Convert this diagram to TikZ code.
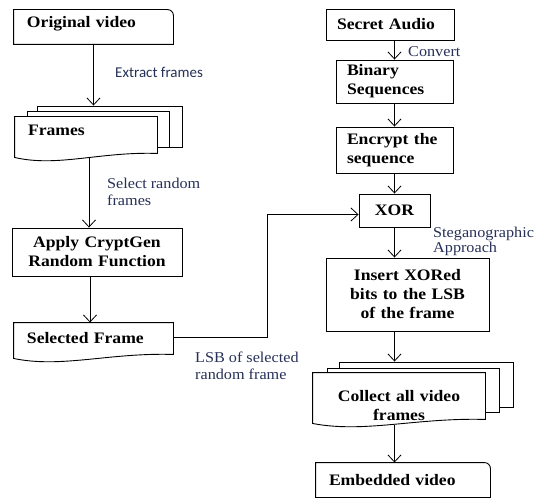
\documentclass[tikz,border=0pt]{standalone}
\usepackage{fontspec}
\setmainfont{Liberation Serif}[FakeStretch=1.1]
\newfontfamily\noteserif{Liberation Serif}[FakeStretch=1.08]
\newfontfamily\notesans{Carlito}
\usetikzlibrary{arrows.meta,calc}
\definecolor{notecol}{RGB}{38,48,88}

\begin{document}
\begin{tikzpicture}[x=1pt, y=1pt,
    box/.style = {draw, line width=0.9pt, inner xsep=13pt, inner ysep=2pt, font=\fontsize{16}{19}\selectfont\bfseries},
    tab/.style = {box, draw=none},
    paper/.style = {box, draw=none, fill=white},
    sheet/.style = {draw, line width=0.9pt, fill=white, inner sep=0pt},
    arr/.style = {-{Straight Barb[length=7pt,width=13pt]}, line width=0.8pt},
    note/.style = {text=notecol, align=left, anchor=west, inner sep=0pt, font=\noteserif\fontsize{15}{17}\selectfont}]
  \useasboundingbox (0,0) rectangle (538,499);

  % left column
  \node[tab, minimum width=159pt, text width=133pt, minimum height=34pt, align=left, text depth=10pt] (orig) at (93.5,472) {Original video};
  \node[sheet, minimum width=145pt, minimum height=41pt] (frm3) at (109.5,372.5) {};
  \node[sheet, minimum width=142pt, minimum height=36pt] (frm2) at (98,370) {};
  \node[paper, minimum width=142pt, text width=116pt, minimum height=40pt, align=left, text depth=14pt] (frm) at (86,362) {Frames};
  \node[box, minimum width=170pt, text width=150pt, inner xsep=10pt, minimum height=48pt, align=center] (app) at (97,247) {Apply CryptGen\\Random Function};
  \node[paper, minimum width=159pt, text width=133pt, minimum height=35pt, align=left, text depth=6pt] (sel) at (93.5,158.5) {Selected Frame};

  % right column
  \node[box, minimum width=128pt, text width=106pt, inner xsep=11pt, minimum height=31pt, align=left] (sec) at (390,474.5) {Secret Audio};
  \node[box, minimum width=117pt, text width=95pt, inner xsep=11pt, minimum height=43pt, align=left] (bin) at (394.5,417.5) {Binary\\Sequences};
  \node[box, minimum width=117pt, text width=95pt, inner xsep=11pt, minimum height=46pt, align=left] (enc) at (394.5,349) {Encrypt the\\sequence};
  \node[box, minimum width=71pt, minimum height=33pt, inner xsep=4pt] (xor) at (394.5,288.5) {XOR};
  \node[box, minimum width=163pt, text width=143pt, inner xsep=10pt, minimum height=73pt, align=center] (ins) at (407.5,204.5) {Insert XORed\\bits to the LSB\\of the frame};
  \node[sheet, minimum width=174pt, minimum height=45pt] (col3) at (426,114.5) {};
  \node[sheet, minimum width=172pt, minimum height=44pt] (col2) at (413,109) {};
  \node[paper, minimum width=172pt, text width=152pt, inner xsep=10pt, minimum height=50pt, align=center, text depth=4pt] (col) at (399,101) {Collect all video\\frames};
  \node[tab, minimum width=174pt, text width=148pt, minimum height=34pt, align=left] (emb) at (403,19) {Embedded video};

  % outlines
  \foreach \n in {orig,emb}
    \draw[line width=0.9pt] (\n.south west) -- (\n.north west) -- ([xshift=-6pt]\n.north east) arc[start angle=90,end angle=0,radius=6pt] -- (\n.south east) -- cycle;
  \foreach \n in {frm,sel,col}
    \draw[line width=0.9pt] (\n.south west) -- (\n.north west) -- (\n.north east) -- ([yshift=4pt]\n.south east)
      .. controls ($(\n.south west)!0.6!(\n.south east)+(0,6pt)$) and ($(\n.south west)!0.3!(\n.south east)+(0,-10pt)$) .. (\n.south west) -- cycle;

  % labels
  \node[note, font=\notesans\fontsize{15}{17}\selectfont] (lblext) at (115,427) {Extract frames};
  \node[note] (lblsel) at (107,307) {Select random\\frames};
  \node[note] (lblconv) at (408,447) {Convert};
  \node[note] (lbllsb) at (195,133) {LSB of selected\\random frame};
  \node[note, font=\noteserif\fontsize{15}{15}\selectfont] (lblsteg) at (433,258) {Steganographic\\Approach};

  % connectors
  \draw[arr] (orig.south) -- (orig.south |- frm3.north);
  \draw[arr] ([xshift=3pt]frm.south) -- ([xshift=3pt]frm.south |- app.north);
  \draw[arr] ([xshift=-7pt]app.south) -- ([xshift=-7pt]app.south |- sel.north);
  \draw[arr] ([yshift=3pt]sel.east) -- ++(94,0) |- ([yshift=-4pt]xor.west);
  \draw[arr] (sec.south -| bin.north) -- (bin.north);
  \draw[arr] (bin) -- (enc);
  \draw[arr] (enc) -- (xor);
  \draw[arr] (xor.south) -- (xor.south |- ins.north);
  \draw[arr] (ins.south -| xor.south) -- (xor.south |- col3.north);
  \draw[arr] ([yshift=-2pt]col.south -| xor.south) -- (xor.south |- emb.north);
\end{tikzpicture}
\end{document}
